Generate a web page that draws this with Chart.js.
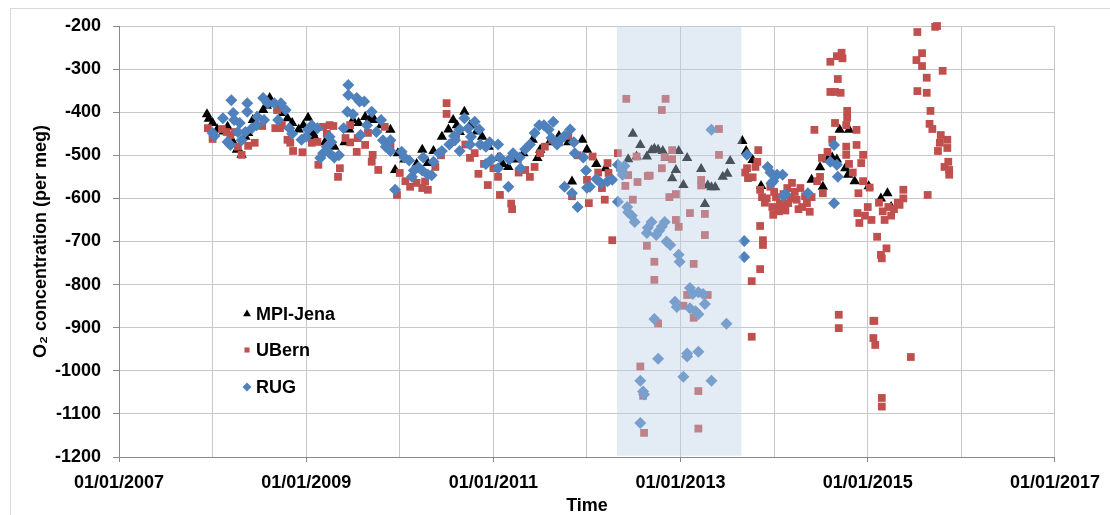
<!DOCTYPE html>
<html>
<head>
<meta charset="utf-8">
<script src="https://cdn.jsdelivr.net/npm/chart.js@4/dist/chart.umd.min.js"></script>
<style>
html,body{margin:0;padding:0;background:#fff;overflow:hidden}
#wrap{position:relative;width:1110px;height:515px}
</style>
</head>
<body>
<div id="wrap"><canvas id="c" width="1110" height="515"></canvas></div>
<script>
// ---- data (x = decimal year, y = O2 in per meg) ----
const seriesNames = ["MPI-Jena", "UBern", "RUG"];

const mpiJena = [
[2007.94,-405],[2007.96,-415],[2008.00,-425],[2008.05,-440],[2008.12,-445],[2008.16,-434],[2008.22,-470],[2008.26,-487],
[2008.31,-499],[2008.35,-457],[2008.38,-448],[2008.43,-418],[2008.47,-411],[2008.54,-395],[2008.58,-385],[2008.61,-367],
[2008.66,-380],[2008.70,-390],[2008.75,-402],[2008.80,-414],[2008.85,-425],[2008.92,-440],[2008.97,-430],[2009.02,-413],
[2009.07,-448],[2009.09,-457],[2009.20,-470],[2009.30,-480],[2009.41,-470],[2009.46,-440],[2009.50,-418],[2009.56,-425],
[2009.63,-411],[2009.68,-415],[2009.73,-418],[2009.80,-430],[2009.90,-441],[2009.95,-534],[2009.98,-495],[2010.05,-510],
[2010.13,-550],[2010.18,-520],[2010.24,-487],[2010.30,-518],[2010.36,-490],[2010.45,-457],[2010.52,-440],[2010.57,-418],
[2010.61,-430],[2010.64,-446],[2010.69,-399],[2010.75,-430],[2010.82,-445],[2010.88,-457],[2010.95,-480],[2011.05,-506],
[2011.10,-520],[2011.16,-527],[2011.25,-510],[2011.32,-495],[2011.42,-464],[2011.47,-506],[2011.50,-487],[2011.60,-470],
[2011.70,-455],[2011.80,-470],[2011.84,-561],[2011.95,-464],[2012.00,-487],[2012.10,-520],[2012.20,-530],
[2012.44,-509],[2012.49,-450],[2012.53,-503],[2012.57,-476],[2012.64,-503],[2012.69,-488],[2012.72,-485],[2012.76,-487],
[2012.81,-490],[2012.84,-506],[2012.91,-553],[2012.95,-534],[2012.98,-490],[2013.03,-569],[2013.07,-506],[2013.22,-532],
[2013.26,-613],[2013.29,-570],[2013.33,-574],[2013.37,-574],[2013.45,-550],[2013.50,-543],[2013.53,-513],
[2013.66,-467],[2013.70,-490],[2013.77,-511],[2013.86,-571],[2014.40,-557],[2014.49,-528],[2014.52,-573],[2014.57,-510],
[2014.62,-505],[2014.67,-510],[2014.70,-441],[2014.80,-441],[2014.76,-530],[2014.79,-545],[2014.86,-560],[2015.01,-572],
[2015.14,-600],[2015.21,-588],[2015.25,-620]
];

const uBern = [
[2007.95,-437],[2008.00,-462],[2008.10,-439],[2008.15,-446],[2008.19,-453],[2008.24,-446],[2008.27,-480],[2008.31,-499],
[2008.38,-478],[2008.45,-471],[2008.53,-432],[2008.67,-437],[2008.69,-395],[2008.72,-437],[2008.74,-430],[2008.80,-464],
[2008.83,-471],[2008.86,-490],[2008.96,-493],[2009.06,-471],[2009.12,-469],[2009.13,-522],[2009.18,-434],[2009.22,-450],
[2009.25,-430],[2009.29,-432],[2009.34,-550],[2009.36,-530],[2009.42,-460],[2009.47,-430],[2009.47,-470],[2009.54,-492],
[2009.55,-460],[2009.63,-476],[2009.66,-448],[2009.70,-515],[2009.71,-499],[2009.77,-534],[2009.84,-434],[2009.90,-476],
[2009.97,-592],[2010.00,-541],[2010.06,-560],[2010.11,-573],[2010.18,-564],[2010.24,-576],[2010.27,-561],[2010.30,-580],
[2010.38,-527],[2010.44,-500],[2010.50,-379],[2010.50,-404],[2010.60,-455],[2010.70,-475],[2010.75,-506],[2010.80,-495],
[2010.84,-543],[2010.90,-520],[2010.94,-569],[2011.00,-530],[2011.05,-550],[2011.07,-592],[2011.19,-612],[2011.20,-625],
[2011.27,-540],[2011.34,-534],[2011.39,-550],[2011.44,-527],[2011.50,-495],[2011.55,-480],[2011.63,-464],[2011.70,-470],
[2011.80,-455],[2011.84,-595],[2011.90,-500],[2012.00,-557],[2012.02,-611],[2012.06,-503],[2012.12,-540],[2012.16,-576],
[2012.19,-603],[2012.22,-518],[2012.23,-541],[2012.27,-697],
[2012.33,-495],[2012.41,-571],[2012.42,-369],[2012.44,-546],[2012.49,-603],[2012.53,-503],[2012.54,-562],[2012.57,-990],
[2012.60,-1058],[2012.61,-1144],[2012.65,-548],[2012.67,-547],[2012.64,-710],[2012.72,-747],[2012.72,-789],[2012.76,-890],
[2012.80,-530],[2012.80,-395],[2012.83,-504],[2012.84,-369],[2012.88,-597],[2012.91,-488],[2012.91,-509],[2012.95,-590],
[2012.95,-650],[2012.98,-666],[2013.03,-849],[2013.07,-824],[2013.10,-634],[2013.14,-752],[2013.14,-877],[2013.19,-1047],
[2013.19,-1134],[2013.22,-557],[2013.22,-570],[2013.26,-636],[2013.26,-685],[2013.29,-824],[2013.41,-439],[2013.41,-499],
[2013.69,-540],[2013.71,-530],[2013.72,-553],[2013.76,-792],[2013.76,-921],[2013.77,-551],[2013.80,-527],[2013.83,-488],
[2013.82,-515],[2013.85,-580],[2013.87,-597],[2013.90,-610],[2013.85,-664],[2013.88,-697],[2013.88,-708],[2013.85,-764],
[2013.92,-600],[2014.00,-585],[2014.06,-615],[2014.12,-628],[2014.18,-600],[2014.26,-625],[2014.33,-595],
[2013.96,-573],[2013.98,-620],[2013.99,-638],[2014.02,-597],[2014.05,-630],[2014.08,-611],[2014.10,-590],[2014.14,-576],
[2014.15,-611],[2014.19,-564],[2014.22,-585],[2014.24,-603],[2014.28,-576],[2014.30,-620],[2014.35,-611],[2014.38,-631],
[2014.40,-597],[2014.43,-441],[2014.46,-560],[2014.49,-550],[2014.52,-588],[2014.51,-506],[2014.57,-492],[2014.60,-283],
[2014.60,-353],[2014.62,-464],[2014.65,-425],[2014.65,-353],[2014.67,-270],[2014.68,-323],[2014.69,-870],[2014.69,-901],
[2014.71,-355],[2014.72,-262],[2014.73,-275],[2014.77,-480],[2014.77,-499],[2014.78,-397],[2014.78,-413],[2014.77,-430],
[2014.80,-520],[2014.84,-540],[2014.88,-476],[2014.88,-441],[2014.89,-634],[2014.90,-588],[2014.91,-657],[2014.93,-518],
[2014.95,-499],[2014.95,-560],[2014.97,-640],[2015.00,-620],[2015.02,-575],[2015.04,-650],[2015.06,-884],[2015.07,-884],
[2015.06,-924],[2015.08,-940],[2015.10,-689],[2015.12,-610],[2015.14,-731],[2015.15,-739],[2015.16,-630],[2015.18,-650],
[2015.15,-1063],[2015.15,-1083],[2015.20,-716],[2015.22,-620],[2015.25,-640],[2015.28,-625],[2015.32,-610],[2015.34,-615],
[2015.38,-580],[2015.38,-600],[2015.46,-968],
[2015.52,-279],[2015.53,-214],[2015.53,-351],[2015.58,-263],[2015.58,-293],[2015.63,-320],[2015.63,-355],[2015.64,-592],
[2015.66,-427],[2015.67,-397],[2015.69,-439],[2015.72,-202],[2015.74,-200],[2015.75,-490],[2015.77,-471],[2015.78,-453],
[2015.80,-304],[2015.82,-527],[2015.85,-464],[2015.85,-483],[2015.86,-515],[2015.87,-534],[2015.87,-545]
];

const rug = [
[2008.00,-448],[2008.02,-455],[2008.11,-414],[2008.16,-469],[2008.19,-476],[2008.20,-372],[2008.22,-402],[2008.23,-418],
[2008.27,-446],[2008.29,-425],[2008.31,-465],[2008.35,-446],[2008.37,-379],[2008.37,-399],[2008.42,-437],[2008.47,-430],
[2008.48,-411],[2008.54,-367],[2008.55,-418],[2008.59,-379],[2008.66,-379],[2008.73,-379],[2008.78,-395],[2008.70,-418],
[2008.82,-437],[2008.85,-450],[2008.95,-464],[2009.00,-457],[2009.02,-440],[2009.06,-430],[2009.12,-437],[2009.15,-506],
[2009.18,-495],[2009.22,-480],[2009.25,-457],[2009.27,-470],[2009.25,-495],[2009.30,-505],[2009.35,-500],[2009.40,-437],
[2009.45,-337],[2009.45,-360],[2009.44,-399],[2009.50,-405],[2009.54,-367],[2009.57,-375],[2009.62,-375],[2009.58,-453],
[2009.65,-430],[2009.70,-399],[2009.75,-446],[2009.80,-418],[2009.82,-465],[2009.85,-480],[2009.90,-465],[2009.90,-490],
[2009.95,-580],[2010.02,-492],[2010.05,-505],[2010.10,-512],[2010.13,-550],[2010.15,-535],[2010.20,-528],[2010.25,-505],
[2010.24,-535],[2010.30,-545],[2010.34,-546],[2010.36,-515],[2010.42,-495],[2010.45,-490],[2010.53,-475],[2010.58,-455],
[2010.59,-465],[2010.64,-490],[2010.69,-414],[2010.64,-440],[2010.73,-437],[2010.76,-457],[2010.80,-422],[2010.85,-440],
[2010.75,-475],[2010.86,-475],[2010.92,-480],[2010.96,-470],[2010.92,-520],[2010.98,-510],[2011.05,-475],[2011.07,-505],
[2011.05,-530],[2011.16,-573],[2011.17,-510],[2011.21,-495],[2011.28,-505],[2011.29,-530],[2011.34,-486],[2011.39,-475],
[2011.44,-448],[2011.49,-430],[2011.54,-430],[2011.59,-440],[2011.62,-460],[2011.64,-422],[2011.68,-475],[2011.71,-465],
[2011.76,-455],[2011.76,-573],[2011.82,-440],[2011.84,-588],[2011.86,-470],[2011.87,-495],[2011.90,-620],[2011.96,-505],
[2011.99,-535],[2012.00,-575],[2012.03,-573],[2012.10,-555],[2012.15,-565],[2012.22,-560],[2012.27,-557],
[2012.33,-522],[2012.37,-535],[2012.40,-525],[2012.38,-545],[2012.33,-608],[2012.43,-620],[2012.44,-632],[2012.48,-640],
[2012.51,-655],[2012.57,-1023],[2012.57,-1121],[2012.60,-1048],[2012.61,-1055],[2012.64,-680],[2012.65,-668],[2012.69,-655],
[2012.72,-880],[2012.74,-685],[2012.76,-972],[2012.77,-675],[2012.80,-665],[2012.83,-655],[2012.85,-700],[2012.89,-708],
[2012.94,-840],[2012.96,-852],[2012.98,-731],[2012.99,-747],[2013.03,-1014],[2013.07,-960],[2013.07,-967],[2013.10,-808],
[2013.10,-855],[2013.13,-822],[2013.16,-862],[2013.19,-818],[2013.19,-956],[2013.19,-869],[2013.24,-822],[2013.26,-845],
[2013.33,-441],[2013.33,-1023],[2013.49,-891],
[2013.68,-699],[2013.68,-736],[2013.71,-499],[2013.93,-527],[2013.96,-540],[2013.99,-560],[2013.97,-565],[2014.03,-545],
[2014.09,-545],[2014.10,-594],[2014.12,-590],[2014.36,-588],[2014.64,-476],[2014.60,-515],[2014.67,-522],[2014.68,-550],
[2014.64,-611]
];

const xTickLabels = ["01/01/2007", "01/01/2009", "01/01/2011", "01/01/2013", "01/01/2015", "01/01/2017"];
const yTickValues = [-1200, -1100, -1000, -900, -800, -700, -600, -500, -400, -300, -200];
const shadedPeriod = [2012.32, 2013.65];
const xTitle = "Time";
const yTitle = "O\u2082 concentration (per meg)";

// ---- styles ----
const FONT = "'Liberation Sans', Arial, sans-serif";
const colors = ["#000000", "#C0504D", "#4F81BD"];
const styles = ["triangle", "rect", "rectRot"];
const radii = [6, 5.5, 6];

const toPts = arr => arr.map(([x, y]) => ({x, y}));
const allSeries = [mpiJena, uBern, rug];

const datasets = allSeries.map((s, i) => ({
  label: seriesNames[i],
  data: toPts(s),
  showLine: false,
  pointStyle: styles[i],
  pointRadius: radii[i],
  pointBackgroundColor: colors[i],
  pointBorderWidth: 0,
  borderWidth: 0,
  backgroundColor: colors[i],
  borderColor: colors[i],
  order: 2 - i,
  clip: false
}));

const frame = {
  id: 'frame',
  beforeDraw(chart) {
    const ctx = chart.ctx;
    ctx.save();
    ctx.fillStyle = '#fff';
    ctx.fillRect(0, 0, chart.width, chart.height);
    ctx.strokeStyle = '#d9d9d9';
    ctx.lineWidth = 1;
    ctx.strokeRect(10.5, 8.5, 1300, 700);
    ctx.restore();
  }
};

const shade = {
  id: 'shade',
  afterDatasetsDraw(chart) {
    const {ctx, scales: {x, y}} = chart;
    const x0 = x.getPixelForValue(shadedPeriod[0]);
    const x1 = x.getPixelForValue(shadedPeriod[1]);
    const y0 = y.getPixelForValue(-200);
    const y1 = y.getPixelForValue(-1197);
    ctx.save();
    ctx.fillStyle = 'rgba(185,205,229,0.4)';
    ctx.fillRect(x0, y0, x1 - x0, y1 - y0);
    ctx.restore();
  }
};

function marker(ctx, style, cx, cy, r, color) {
  ctx.fillStyle = color;
  ctx.beginPath();
  if (style === 'triangle') {
    ctx.moveTo(cx, cy - r);
    ctx.lineTo(cx + r * 0.866, cy + r * 0.5);
    ctx.lineTo(cx - r * 0.866, cy + r * 0.5);
  } else if (style === 'rect') {
    ctx.rect(cx - r * 0.7071, cy - r * 0.7071, r * 1.4142, r * 1.4142);
  } else {
    ctx.moveTo(cx - r, cy); ctx.lineTo(cx, cy - r); ctx.lineTo(cx + r, cy); ctx.lineTo(cx, cy + r);
  }
  ctx.closePath();
  ctx.fill();
}

const legendBox = {
  id: 'legendBox',
  afterDraw(chart) {
    const ctx = chart.ctx;
    const rows = [314, 350, 387];
    const mr = [4.5, 3.6, 4.5];
    ctx.save();
    ctx.font = "bold 18px " + FONT;
    ctx.textBaseline = 'middle';
    ctx.textAlign = 'left';
    seriesNames.forEach((n, i) => {
      marker(ctx, styles[i], 247, rows[i], mr[i], colors[i]);
      ctx.fillStyle = '#000';
      ctx.fillText(n, 256, rows[i] + 1);
    });
    ctx.restore();
  }
};

new Chart(document.getElementById('c'), {
  type: 'scatter',
  data: { datasets },
  options: {
    responsive: false,
    animation: false,
    devicePixelRatio: 1,
    events: [],
    layout: { padding: { left: 0, top: 26, right: 55, bottom: 0 } },
    plugins: { legend: { display: false }, tooltip: { enabled: false } },
    scales: {
      x: {
        type: 'linear',
        min: 2007, max: 2017,
        afterFit(s) { s.height = 58; },
        ticks: {
          stepSize: 1, autoSkip: false, maxRotation: 0, padding: 10,
          color: '#000',
          font: { family: FONT, size: 18, weight: 'bold' },
          callback: v => xTickLabels.find(l => l.endsWith(String(v))) || ''
        },
        grid: {
          color: '#c8c8c8', lineWidth: 1, tickLength: 5,
          tickColor: c => (c.tick && xTickLabels.some(l => l.endsWith(String(c.tick.value)))) ? '#898989' : 'rgba(0,0,0,0)'
        },
        border: { color: '#898989', width: 1 },
        title: { display: true, text: xTitle, color: '#000', padding: { top: 0, bottom: 0 },
                 font: { family: FONT, size: 18, weight: 'bold', lineHeight: 1 } }
      },
      y: {
        type: 'linear',
        min: -1200, max: -200,
        afterFit(s) { s.width = 119; },
        afterBuildTicks(s) { s.ticks = yTickValues.map(v => ({value: v})); },
        ticks: {
          stepSize: 100, padding: 12, color: '#000',
          font: { family: FONT, size: 18, weight: 'bold' },
          callback: v => String(v)
        },
        grid: { color: '#c8c8c8', lineWidth: 1, tickLength: 6, tickColor: '#898989' },
        border: { color: '#898989', width: 1 },
        title: { display: true, text: yTitle, color: '#000', padding: { top: 30, bottom: 0 },
                 font: { family: FONT, size: 18, weight: 'bold', lineHeight: 1.2 } }
      }
    }
  },
  plugins: [frame, shade, legendBox]
});
</script>
</body>
</html>
